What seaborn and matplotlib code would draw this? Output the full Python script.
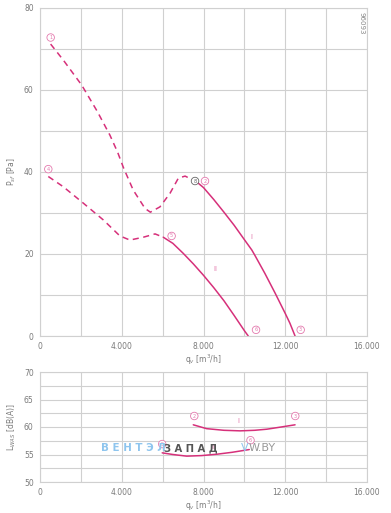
import matplotlib
matplotlib.use("Agg")
import matplotlib.pyplot as plt
import seaborn as sns
import pandas as pd

# ---------------- data ----------------
# upper chart: static pressure P_sf [Pa] vs airflow q_v [m3/h]
c1_dash_q = [520, 1140, 2040, 2800, 3420, 3800, 4080, 4560, 5140, 5400, 5870, 6360, 6770, 7100, 7500, 7665]
c1_dash_p = [71.2, 67.3, 61.2, 54.8, 49.0, 44.8, 41.1, 35.6, 31.1, 30.2, 31.5, 34.8, 38.5, 39.0, 38.0, 37.6]
c1_solid_q = [7665, 8000, 8500, 9000, 9500, 10000, 10360, 10500, 11000, 11500, 12000, 12230, 12480]
c1_solid_p = [37.6, 36.2, 33.3, 30.2, 27.0, 23.5, 21.0, 19.8, 15.3, 10.5, 5.5, 3.1, 0.0]

c2_dash_q = [406, 1140, 2120, 3100, 3910, 4400, 5060, 5630, 6030]
c2_dash_p = [38.9, 36.4, 32.4, 28.3, 24.4, 23.4, 24.1, 24.9, 24.1]
c2_solid_q = [6030, 6500, 7000, 7500, 8000, 8500, 9000, 9500, 10000, 10190]
c2_solid_p = [24.1, 22.6, 20.2, 17.6, 14.8, 11.8, 8.6, 5.0, 1.3, 0.0]

# lower chart: sound power L_WAS [dB(A)] vs airflow
s1_q = [7500, 8150, 9000, 9790, 10500, 11100, 11800, 12480]
s1_l = [60.4, 59.7, 59.4, 59.3, 59.4, 59.6, 60.0, 60.4]
s2_q = [5980, 6500, 7180, 7900, 8650, 9400, 10240]
s2_l = [55.3, 55.0, 54.7, 54.8, 55.05, 55.4, 55.9]

# point markers (circled numbers) and curve names
top_marks = [("1", 522, 72.8), ("4", 406, 40.7), ("5", 6440, 24.4), ("2", 8073, 37.8),
             ("6", 10570, 1.5), ("3", 12755, 1.5)]
top_mark_grey = [("8", 7585, 37.8)]
top_names = [("I", 10357, 24.1), ("II", 8563, 16.3)]
bot_marks = [("2", 7550, 62.0), ("3", 12490, 62.0), ("5", 5980, 56.9), ("6", 10300, 57.6)]
bot_names = [("I", 9730, 61.1), ("II", 8460, 56.3)]

x_ticks = [0, 4000, 8000, 12000, 16000]
x_tick_labels = ["0", "4.000", "8.000", "12.000", "16.000"]
top_y_ticks = [0, 20, 40, 60, 80]
bot_y_ticks = [50, 55, 60, 65, 70]

# ---------------- style ----------------
sns.set_theme(style="white")
plt.rcParams['font.family'] = ['DejaVu Sans']
PINK = "#d6307a"
PINK_L = "#e47aae"
GRID = "#d0d0d0"
TXT = "#7a7a7a"

fig = plt.figure(figsize=(3.91, 5.13), dpi=100)
ax1 = fig.add_axes([40/391, 1-336/513, 327/391, 328/513])
ax2 = fig.add_axes([40/391, 1-482/513, 327/391, 110/513])


def style_axes(ax, yt, ylim, ystep):
    ax.set_xlim(0, 16000)
    ax.set_ylim(*ylim)
    ax.set_xticks(x_ticks)
    ax.set_xticklabels(x_tick_labels)
    ax.set_yticks(yt)
    ax.set_xticks(range(0, 16001, 2000), minor=True)
    ax.set_yticks([ylim[0] + i * ystep for i in range(9)], minor=True)
    ax.grid(True, which="both", color=GRID, lw=0.8)
    ax.tick_params(axis="both", which="major", labelsize=5.5, colors=TXT,
                   length=2.5, width=0.6, pad=2, labelcolor=TXT)
    ax.tick_params(axis="both", which="minor", length=0)
    for s in ax.spines.values():
        s.set_color(GRID)
        s.set_linewidth(0.8)
    ax.set_axisbelow(True)


def line(ax, q, v, dashed=False):
    df = pd.DataFrame({"q": q, "v": v})
    sns.lineplot(data=df, x="q", y="v", ax=ax, sort=False, color=PINK, lw=1.1,
                 linestyle=(0, (4, 3)) if dashed else "-")


def mark(ax, t, x, y, col=PINK_L):
    ax.text(x, y, t, fontsize=3.6, color=col, ha="center", va="center",
            bbox=dict(boxstyle="circle,pad=0.25", fc="white", ec=col, lw=0.6))


line(ax1, c1_dash_q, c1_dash_p, True)
line(ax1, c1_solid_q, c1_solid_p)
line(ax1, c2_dash_q, c2_dash_p, True)
line(ax1, c2_solid_q, c2_solid_p)
style_axes(ax1, top_y_ticks, (0, 80), 10)
for t, x, y in top_marks:
    mark(ax1, t, x, y)
for t, x, y in top_mark_grey:
    mark(ax1, t, x, y, col="#666666")
for t, x, y in top_names:
    ax1.text(x, y, t, fontsize=5, color=PINK_L, ha="center", va="center")
ax1.set_xlabel("q$_v$ [m$^3$/h]", fontsize=5.5, color=TXT, labelpad=1)
ax1.set_ylabel("P$_{sf}$ [Pa]", fontsize=5.5, color=TXT, labelpad=4)

line(ax2, s1_q, s1_l)
line(ax2, s2_q, s2_l)
style_axes(ax2, bot_y_ticks, (50, 70), 2.5)
for t, x, y in bot_marks:
    mark(ax2, t, x, y)
for t, x, y in bot_names:
    ax2.text(x, y, t, fontsize=5, color=PINK_L, ha="center", va="center")
ax2.set_xlabel("q$_v$ [m$^3$/h]", fontsize=5.5, color=TXT, labelpad=1)
ax2.set_ylabel("L$_{WAS}$ [dB(A)]", fontsize=5.5, color=TXT, labelpad=4)

# drawing number
fig.text(362/391, 1-23/513, "96093", rotation=-90, fontsize=5, color="#888888",
         ha="center", va="center")

# watermark
fig.text(101/391, 1-448/513, "В Е Н Т Э Л", fontsize=7.4, color="#8ec5ee",
         ha="left", va="center", fontweight="bold")
fig.text(164/391, 1-448/513, "З А П А Д", fontsize=7.2, color="#555555",
         ha="left", va="center", fontweight="bold")
fig.text(241/391, 1-448/513, "V", fontsize=8, color="#8ec5ee", ha="left", va="center")
fig.text(249/391, 1-448/513, "W.BY", fontsize=8, color="#999999", ha="left", va="center")

fig.savefig("out.png", dpi=100)
